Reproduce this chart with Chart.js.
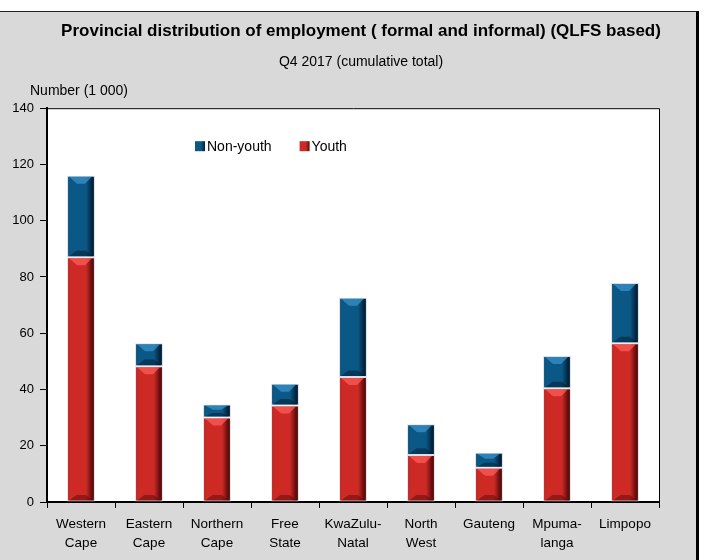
<!DOCTYPE html>
<html><head><meta charset="utf-8">
<script src="https://cdn.jsdelivr.net/npm/chart.js@4/dist/chart.umd.min.js"></script>
<style>
html,body{margin:0;padding:0;overflow:hidden;background:#fff;width:705px;height:560px}
#frame{position:absolute;left:0;top:11px;width:699px;height:560px;background:#d9d9d9;border-top:1px solid #222;border-right:3px solid #000;box-sizing:border-box}
#wrap{position:absolute;left:0;top:0;width:705px;height:560px}
</style></head>
<body><div id="frame"></div><div id="wrap"><canvas id="c"></canvas></div>
<script>
// ---- data ----
const categories = [["Western","Cape"],["Eastern","Cape"],["Northern","Cape"],["Free","State"],["KwaZulu-","Natal"],["North","West"],"Gauteng",["Mpuma-","langa"],"Limpopo"];
const youth    = [87.0, 48.3, 30.0, 34.3, 44.4, 16.7, 12.2, 40.4, 56.4];
const nonYouth = [29.0,  8.1,  4.7,  7.7, 28.2, 10.9,  5.3, 11.5, 21.5];
const yTicks = [0, 20, 40, 60, 80, 100, 120, 140];
const seriesLabels = ["Youth", "Non-youth"];
const titleText = "Provincial distribution of employment ( formal and informal) (QLFS based)";
const subtitleText = "Q4 2017 (cumulative total)";
const yAxisText = "Number (1 000)";

// ---- styling ----
const FONT = "'Liberation Sans', Arial, sans-serif";
const BAR_FRACTION = 0.41;
const RED = {l:'#a81d1b', m:'#cd2a26', d:'#5e0c0c', hi:'rgba(255,95,90,0.7)', sh:'rgba(90,10,10,0.5)'};
const BLUE = {l:'#0a4a72', m:'#0b5785', d:'#02223a', hi:'rgba(60,150,205,0.7)', sh:'rgba(0,25,45,0.5)'};
const COLORS = [RED, BLUE];

function barGrad(c) {
  return (ctx) => {
    const chart = ctx.chart, ca = chart.chartArea;
    if (!ca || ctx.type !== 'data') return c.m;
    const xs = chart.scales.x;
    const cx = xs.getPixelForValue(ctx.dataIndex);
    const w = (xs.width / categories.length) * BAR_FRACTION;
    const g = chart.ctx.createLinearGradient(cx - w/2, 0, cx + w/2, 0);
    g.addColorStop(0, c.l);
    g.addColorStop(0.1, c.m);
    g.addColorStop(0.68, c.m);
    g.addColorStop(0.9, c.d);
    g.addColorStop(1, c.d);
    return g;
  };
}

// title blocks centred like the reference (slightly right of the plot centre)
const centreTitles = {
  id: 'centreTitles',
  afterLayout(chart) {
    const a = chart.chartArea;
    chart.boxes.forEach(b => {
      if (b.options && (b.options.text === titleText || b.options.text === subtitleText)) {
        b.left = a.left + 8;
        b.right = a.right + 8;
      }
    });
  }
};

const bevel = {
  id: 'bevel',
  afterDatasetsDraw(chart) {
    const ctx = chart.ctx;
    ctx.save();
    chart.data.datasets.forEach((ds, di) => {
      const c = COLORS[di];
      chart.getDatasetMeta(di).data.forEach(el => {
        const {x, y, base, width} = el.getProps(['x','y','base','width'], true);
        const L = x - width/2 + 1, R = x + width/2 - 1;
        const h = Math.min(7, (base - y) / 3);
        // top highlight chevron
        ctx.fillStyle = c.hi;
        ctx.beginPath();
        ctx.moveTo(L + 1, y + 1);
        ctx.lineTo(R - 2, y + 1);
        ctx.lineTo(R - width*0.32, y + 1 + h);
        ctx.lineTo(L + width*0.32, y + 1 + h);
        ctx.closePath();
        ctx.fill();
        // bottom shadow
        ctx.fillStyle = c.sh;
        ctx.beginPath();
        ctx.moveTo(L + 1, base - 1);
        ctx.lineTo(R - 1, base - 1);
        ctx.lineTo(R - width*0.3, base - 1 - h*0.8);
        ctx.lineTo(L + width*0.3, base - 1 - h*0.8);
        ctx.closePath();
        ctx.fill();
      });
    });
    ctx.restore();
  }
};

const decor = {
  id: 'decor',
  beforeDraw(chart) {
    const {ctx, chartArea: a} = chart;
    ctx.save();
    ctx.fillStyle = '#ffffff';
    ctx.fillRect(a.left, a.top, a.right - a.left, a.bottom - a.top);
    ctx.restore();
  },
  afterDraw(chart) {
    const {ctx, chartArea: a} = chart;
    ctx.save();
    ctx.strokeStyle = '#000';
    ctx.lineWidth = 1;
    ctx.beginPath();
    ctx.moveTo(a.left, a.top + 0.5);
    ctx.lineTo(a.right + 0.5, a.top + 0.5);
    ctx.lineTo(a.right + 0.5, a.bottom);
    ctx.stroke();
    // y-axis caption
    ctx.fillStyle = '#000';
    ctx.font = "14px " + FONT;
    ctx.textAlign = 'center';
    ctx.textBaseline = 'middle';
    ctx.fillText(yAxisText, a.left + 32, a.top - 17);
    // legend (Non-youth first, then Youth)
    ctx.font = "14px " + FONT;
    ctx.textAlign = 'left';
    const items = [1, 0];
    let x = a.left + 148;
    const y = a.top + 38;
    items.forEach(di => {
      const ds = chart.data.datasets[di], c = COLORS[di];
      const g = ctx.createLinearGradient(x, 0, x + 10, 0);
      g.addColorStop(0, c.m); g.addColorStop(0.6, c.m); g.addColorStop(1, c.d);
      ctx.fillStyle = g;
      ctx.fillRect(x, y - 5, 10, 10);
      ctx.fillStyle = '#000';
      ctx.fillText(ds.label, x + 12, y + 1);
      x += 12 + ctx.measureText(ds.label).width + 28;
    });
    ctx.restore();
  }
};

new Chart(document.getElementById('c'), {
  type: 'bar',
  data: {
    labels: categories,
    datasets: [
      {label: seriesLabels[0], data: youth, backgroundColor: barGrad(RED), borderColor: 'rgba(215,220,228,0.9)', borderWidth: 1, borderSkipped: false},
      {label: seriesLabels[1], data: nonYouth, backgroundColor: barGrad(BLUE), borderColor: 'rgba(215,220,228,0.9)', borderWidth: 1, borderSkipped: false}
    ]
  },
  options: {
    responsive: true,
    maintainAspectRatio: false,
    animation: false,
    devicePixelRatio: 1,
    layout: {padding: {left: 0, right: 46, top: 12, bottom: 0}},
    datasets: {bar: {categoryPercentage: 1, barPercentage: BAR_FRACTION}},
    plugins: {
      legend: {display: false},
      tooltip: {enabled: false},
      title: {display: true, text: titleText, color: '#000', font: {family: FONT, size: 17, weight: 'bold', lineHeight: 1.2}, padding: {top: 9, bottom: 12}},
      subtitle: {display: true, text: subtitleText, color: '#000', font: {family: FONT, size: 14, lineHeight: 1.2}, padding: {top: 0, bottom: 38}}
    },
    scales: {
      x: {
        stacked: true,
        offset: true,
        grid: {display: true, drawOnChartArea: false, drawTicks: true, tickLength: 6, color: '#000', lineWidth: 1, offset: true},
        border: {display: true, color: '#000', width: 2},
        ticks: {color: '#000', font: {family: FONT, size: 13.5, lineHeight: 1.41}, padding: 7, maxRotation: 0, autoSkip: false},
        afterFit(s) { s.height = 58; }
      },
      y: {
        stacked: true,
        min: 0, max: 140,
        afterBuildTicks(s) { s.ticks = yTicks.map(v => ({value: v})); },
        grid: {display: true, drawOnChartArea: false, drawTicks: true, tickLength: 7, color: '#000', lineWidth: 1},
        border: {display: true, color: '#000', width: 2},
        ticks: {color: '#000', font: {family: FONT, size: 13}, padding: 6},
        afterFit(s) { s.width = 47; }
      }
    }
  },
  plugins: [centreTitles, bevel, decor]
});
</script>
</body></html>
